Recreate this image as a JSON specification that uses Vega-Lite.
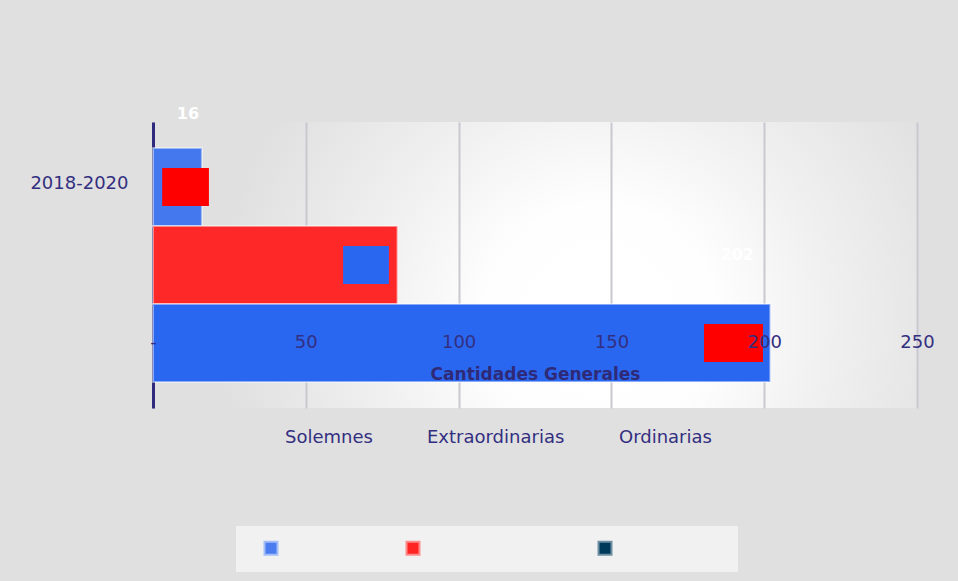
{
  "$schema": "https://vega.github.io/schema/vega-lite/v6.json",
  "width": 764,
  "height": 286,
  "autosize": {"type": "none"},
  "padding": {"left": 153, "top": 122, "right": 41, "bottom": 173},
  "background": "#e0e0e0",
  "config": {
    "font": "DejaVu Sans",
    "view": {
      "stroke": null,
      "fill": {
        "gradient": "radial",
        "x1": 0.585, "y1": 0.572, "r1": 0,
        "x2": 0.585, "y2": 0.572, "r2": 0.5,
        "stops": [
          {"offset": 0, "color": "#ffffff"},
          {"offset": 0.3, "color": "#fefefe"},
          {"offset": 0.6, "color": "#f0f0f0"},
          {"offset": 1, "color": "#e0e0e0"}
        ]
      }
    }
  },
  "datasets": {
    "series": [
      {"periodo": "2018-2020", "serie": "Solemnes", "valor": 16, "desde": 3, "hasta": 18.3},
      {"periodo": "2018-2020", "serie": "Extraordinarias", "valor": 80, "desde": 62.2, "hasta": 77.2},
      {"periodo": "2018-2020", "serie": "Ordinarias", "valor": 202, "desde": 180.3, "hasta": 199.6}
    ]
  },
  "data": {"name": "series"},
  "encoding": {
    "y": {
      "field": "periodo",
      "type": "nominal",
      "scale": {"paddingInner": 0, "paddingOuter": 0},
      "axis": {
        "title": null,
        "domainColor": "#2f2a7d",
        "domainWidth": 3,
        "ticks": false,
        "grid": false,
        "labelFontSize": 18,
        "labelColor": "#332f80",
        "labelPadding": 25,
        "labelOffset": -81
      }
    },
    "yOffset": {
      "field": "serie",
      "type": "nominal",
      "sort": ["Solemnes", "Extraordinarias", "Ordinarias"],
      "scale": {"paddingInner": 0, "paddingOuter": 0.333}
    }
  },
  "layer": [
    {
      "mark": {"type": "bar", "stroke": "#ffffff", "strokeOpacity": 0.45, "strokeWidth": 2},
      "encoding": {
        "x": {
          "field": "valor",
          "type": "quantitative",
          "scale": {"domain": [0, 250], "nice": false},
          "axis": {
            "orient": "bottom",
            "title": "Cantidades Generales",
            "titleFontSize": 17,
            "titleFontWeight": "bold",
            "titleColor": "#2f2a78",
            "titlePadding": 15,
            "values": [0, 50, 100, 150, 200, 250],
            "labelExpr": "datum.value === 0 ? '-' : datum.label",
            "labelFontSize": 18,
            "labelColor": "#332f80",
            "labelPadding": 5,
            "labelFlush": false,
            "labelOverlap": false,
            "ticks": false,
            "tickSize": 0,
            "domain": false,
            "grid": false,
            "offset": -80,
            "zindex": 1
          }
        },
        "color": {
          "field": "serie",
          "type": "nominal",
          "scale": {
            "domain": ["Solemnes", "Extraordinarias", "Ordinarias"],
            "range": ["#4478ee", "#ff2828", "#2a67f1"]
          },
          "legend": {
            "orient": "none",
            "legendX": 83,
            "legendY": 294,
            "direction": "horizontal",
            "title": null,
            "symbolType": "square",
            "symbolSize": 169,
            "symbolStrokeWidth": 2,
            "symbolOpacity": 0,
            "labelFontSize": 18,
            "labelColor": "#332f80",
            "labelOffset": 5,
            "columnPadding": 18,
            "padding": 13,
            "symbolOffset": 13
          }
        }
      }
    },
    {
      "mark": {"type": "bar", "height": 38, "strokeWidth": 0},
      "encoding": {
        "x": {
          "field": "desde",
          "type": "quantitative",
          "scale": {"domain": [0, 250], "nice": false},
          "axis": {
            "orient": "bottom",
            "title": null,
            "labels": false,
            "ticks": false,
            "domain": false,
            "grid": true,
            "gridColor": "#c9c7cf",
            "gridWidth": 2,
            "values": [0, 50, 100, 150, 200, 250],
            "zindex": 0
          }
        },
        "x2": {"field": "hasta"},
        "fill": {
          "field": "serie",
          "type": "nominal",
          "scale": {
            "domain": ["Extraordinarias", "Solemnes", "Ordinarias"],
            "range": ["#2a67f1", "#ff0000", "#ff0000"]
          },
          "legend": null
        },
        "stroke": {
          "field": "serie",
          "type": "nominal",
          "sort": null,
          "scale": {"range": ["#a3bdf7", "#ff8c8c", "#6f8fa3"]},
          "legend": {
            "orient": "none",
            "legendX": 83,
            "legendY": 404,
            "direction": "horizontal",
            "title": " ",
            "titleOrient": "right",
            "titleFontSize": 18,
            "titlePadding": 13,
            "symbolType": "square",
            "symbolSize": 169,
            "symbolFillColor": {"expr": "datum.value === 'Solemnes' ? '#4a7cf0' : datum.value === 'Extraordinarias' ? '#ff2424' : '#003a5a'"},
            "symbolStrokeWidth": 2,
            "symbolOpacity": 1,
            "labelOpacity": 0,
            "labelFontSize": 18,
            "labelOffset": 5,
            "columnPadding": 18,
            "padding": 13,
            "symbolOffset": 13,
            "fillColor": "#f1f1f1"
          }
        }
      }
    },
    {
      "transform": [{"filter": "datum.serie === 'Solemnes'"}],
      "mark": {"type": "text", "color": "#ffffff", "fontWeight": "bold", "fontSize": 16, "align": "center", "baseline": "middle", "dx": -14, "dy": -73},
      "encoding": {
        "x": {"field": "valor", "type": "quantitative", "scale": {"domain": [0, 250], "nice": false}, "axis": null},
        "text": {"field": "valor", "type": "quantitative"}
      }
    },
    {
      "transform": [{"filter": "datum.serie === 'Ordinarias'"}],
      "mark": {"type": "text", "color": "#ffffff", "fontWeight": "bold", "fontSize": 16, "align": "center", "baseline": "middle", "dx": -33, "dy": -88},
      "encoding": {
        "x": {"field": "valor", "type": "quantitative", "scale": {"domain": [0, 250], "nice": false}, "axis": null},
        "text": {"field": "valor", "type": "quantitative"}
      }
    }
  ],
  "resolve": {"axis": {"x": "independent"}}
}
